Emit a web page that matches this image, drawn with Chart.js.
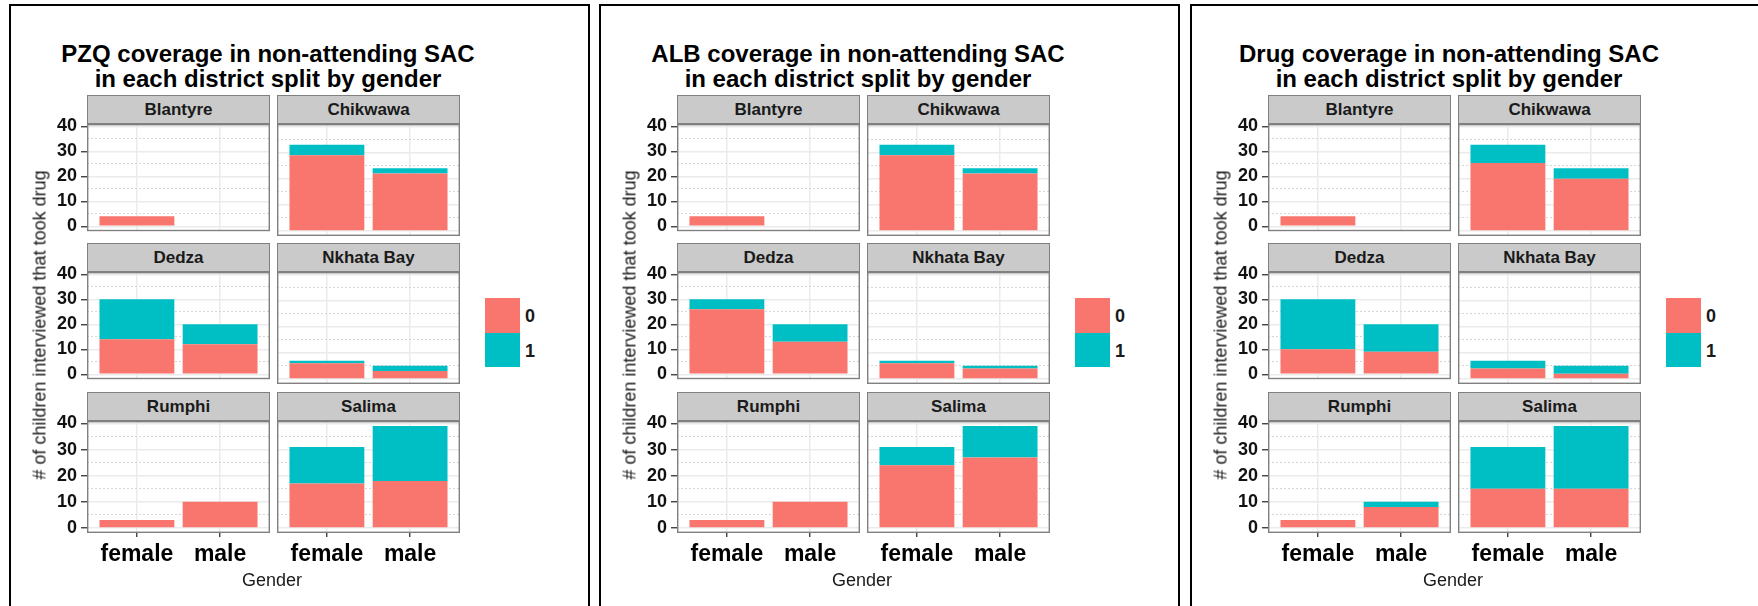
<!DOCTYPE html>
<html>
<head>
<meta charset="utf-8">
<script src="https://cdn.jsdelivr.net/npm/chart.js@4.4.1/dist/chart.umd.min.js"></script>
<style>
  body { margin: 0; background: #fff; font-family: "Liberation Sans", Arial, sans-serif; }
  #page { position: relative; width: 1758px; height: 606px; overflow: hidden; background: #fff; }
  .frame { position: absolute; top: 4px; width: 581px; height: 700px; border: 2px solid #000; box-sizing: border-box; }
  .title { position: absolute; top: 40.6px; width: 560px; text-align: center; font-weight: bold;
           font-size: 24px; line-height: 25.6px; color: #000; white-space: nowrap; }
  .strip { position: absolute; width: 183px; height: 29px; box-sizing: border-box; background: #cacaca;
           border: 1px solid #808080; text-align: center; font-weight: bold; font-size: 17px;
           line-height: 27px; color: #1a1a1a; }
  canvas { position: absolute; }
  .ytitle { position: absolute; font-size: 18px; color: #1a1a1a; white-space: nowrap;
            transform: translate(-50%, -50%) rotate(-90deg); }
  .xtitle { position: absolute; font-size: 18px; color: #1a1a1a; white-space: nowrap;
            transform: translate(-50%, -50%); }
  .key { position: absolute; width: 35px; }
  .keylabel { position: absolute; font-size: 18px; font-weight: bold; color: #1a1a1a;
              transform: translateY(-50%); }
</style>
</head>
<body>
<div id="page"></div>
<script>
const districts = ["Blantyre", "Chikwawa", "Dedza", "Nkhata Bay", "Rumphi", "Salima"];
const genders = ["female", "male"];
const tookDrugLevels = ["0", "1"];
const yTicks = [0, 10, 20, 30, 40];

// children per district as [female, male]; "0" = did not take the drug, "1" = took it
const pzqNo = [[4, 0], [29, 22], [14, 12], [6, 3], [3, 10], [17, 18]];
const pzqYes = [[0, 0], [4, 2], [16, 8], [1, 2], [0, 0], [14, 21]];
const albNo = [[4, 0], [29, 22], [26, 13], [6, 4], [3, 10], [24, 27]];
const albYes = [[0, 0], [4, 2], [4, 7], [1, 1], [0, 0], [7, 12]];
const drugNo = [[4, 0], [26, 20], [10, 9], [4, 2], [3, 8], [15, 15]];
const drugYes = [[0, 0], [7, 4], [20, 11], [3, 3], [0, 2], [16, 24]];

const titles = [
  "PZQ coverage in non-attending SAC",
  "ALB coverage in non-attending SAC",
  "Drug coverage in non-attending SAC"
];
const plots = [[pzqNo, pzqYes], [albNo, albYes], [drugNo, drugYes]];

const levelColours = ["#F8766D", "#00BFC4"];
const FONT = "'Liberation Sans', Arial, sans-serif";

// layout of one plot (pixels, relative to the plot's left edge)
const PLOT_X = [0, 590, 1181];
const COL_X = [87, 277];
const STRIP_Y = [95, 243, 392];
const PANEL_W = 183, PANEL_H = 112, STRIP_H = 29;
const Y_AXIS_W = 60, X_AXIS_H = 46;

// shared y range with 5% expansion, like ggplot
let maxTotal = 0;
plots.forEach(([no, yes]) => no.forEach((pair, d) => pair.forEach((v, g) => {
  maxTotal = Math.max(maxTotal, v + yes[d][g]);
})));
const yMin = -0.05 * maxTotal;
const yMax = maxTotal * 1.05;
const yMinor = yTicks.slice(1).map((v, i) => (v + yTicks[i]) / 2);
const yGrid = yTicks.concat(yMinor);
const isMajor = v => yTicks.includes(v);

const panelBorder = {
  id: "panelBorder",
  afterDraw(chart) {
    const a = chart.chartArea;
    const ctx = chart.ctx;
    ctx.save();
    ctx.strokeStyle = "#808080";
    ctx.lineWidth = 1.4;
    ctx.strokeRect(a.left + 0.7, a.top + 0.7, a.width - 1.4, a.height - 1.4);
    ctx.restore();
  }
};

const page = document.getElementById("page");

function addDiv(cls, css, html) {
  const el = document.createElement("div");
  el.className = cls;
  Object.assign(el.style, css);
  if (html !== undefined) el.innerHTML = html;
  page.appendChild(el);
  return el;
}

function drawFacet(ox, d, no, yes) {
  const row = Math.floor(d / 2), col = d % 2;
  const axisW = col === 0 ? Y_AXIS_W : 0;
  const axisH = row === 2 ? X_AXIS_H : 0;
  const padBottom = row === 2 ? 0 : 10;

  addDiv("strip", { left: (ox + COL_X[col]) + "px", top: STRIP_Y[row] + "px" }, districts[d]);

  const canvas = document.createElement("canvas");
  canvas.width = axisW + PANEL_W;
  canvas.height = STRIP_H + PANEL_H + axisH + padBottom;
  canvas.style.left = (ox + COL_X[col] - axisW) + "px";
  canvas.style.top = STRIP_Y[row] + "px";
  page.appendChild(canvas);

  new Chart(canvas, {
    type: "bar",
    data: {
      datasets: tookDrugLevels.map((lvl, k) => ({
        label: lvl,
        stack: "children",
        data: genders.map((g, gi) => ({ x: gi + 1, y: (k === 0 ? no : yes)[d][gi] })),
        backgroundColor: levelColours[k],
        borderWidth: 0,
        barPercentage: 0.9,
        categoryPercentage: 1
      }))
    },
    options: {
      responsive: false,
      animation: false,
      events: [],
      layout: { padding: { top: STRIP_H, bottom: padBottom, left: 0, right: 0 } },
      plugins: { legend: { display: false }, tooltip: { enabled: false } },
      scales: {
        x: {
          type: "linear",
          stacked: true,
          offset: false,
          min: 0.4,
          max: 2.6,
          afterBuildTicks: s => { s.ticks = genders.map((g, i) => ({ value: i + 1 })); },
          afterFit: s => { s.height = axisH; },
          ticks: {
            display: row === 2,
            autoSkip: false,
            maxRotation: 0,
            padding: 4,
            color: "#000",
            font: { family: FONT, size: 23, weight: "bold" },
            callback: v => genders[Math.round(v) - 1]
          },
          grid: {
            offset: false,
            color: "#ebebeb",
            lineWidth: 1.5,
            drawTicks: row === 2,
            tickLength: 4,
            tickColor: "#333",
            tickWidth: 1.3
          },
          border: { display: false }
        },
        y: {
          type: "linear",
          stacked: true,
          min: yMin,
          max: yMax,
          afterBuildTicks: s => { s.ticks = yGrid.map(v => ({ value: v })); },
          afterFit: s => { s.width = axisW; },
          ticks: {
            display: col === 0,
            autoSkip: false,
            padding: 4,
            color: "#111",
            font: { family: FONT, size: 18, weight: "bold" },
            callback: v => isMajor(v) ? String(v) : ""
          },
          grid: {
            color: c => isMajor(c.tick.value) ? "#ebebeb" : "#d6d6d6",
            lineWidth: c => isMajor(c.tick.value) ? 1.5 : 1,
            drawTicks: col === 0,
            tickLength: 6,
            tickWidth: 1.3,
            tickColor: c => isMajor(c.tick.value) ? "#333" : "rgba(0,0,0,0)"
          },
          border: {
            display: false,
            dash: c => isMajor(c.tick.value) ? [] : [2, 2]
          }
        }
      }
    },
    plugins: [panelBorder]
  });
}

plots.forEach(([no, yes], p) => {
  const ox = PLOT_X[p];
  addDiv("frame", { left: (ox + 9) + "px" });
  addDiv("title", { left: (ox + 268 - 280) + "px" }, titles[p] + "<br>in each district split by gender");
  districts.forEach((name, d) => drawFacet(ox, d, no, yes));

  addDiv("ytitle", { left: (ox + 40) + "px", top: "325px" }, "# of children interviewed that took drug");
  addDiv("xtitle", { left: (ox + 272) + "px", top: "580px" }, "Gender");

  // fill legend, one key per level
  tookDrugLevels.forEach((lvl, k) => {
    const top = 298 + k * 35;
    addDiv("key", { left: (ox + 485) + "px", top: top + "px", height: (k === 0 ? 35 : 34) + "px",
                    background: levelColours[k] });
    addDiv("keylabel", { left: (ox + 525) + "px", top: (top + 17.5) + "px" }, lvl);
  });
});
</script>
</body>
</html>
